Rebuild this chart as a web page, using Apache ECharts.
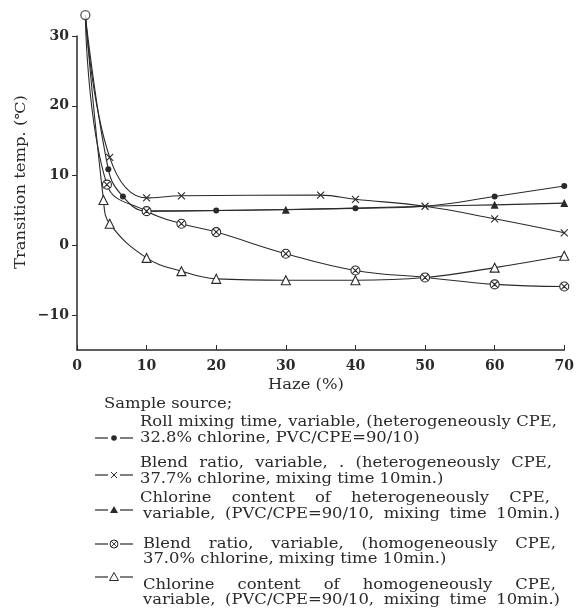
<!DOCTYPE html>
<html><head><meta charset="utf-8">
<script src="https://cdn.jsdelivr.net/npm/echarts@6/dist/echarts.min.js"></script>
<style>html,body{margin:0;padding:0;background:#fff}#c{width:577px;height:614px}</style>
</head><body><div id="c"></div>
<script>
// ---- data ----
const xTicks = [0, 10, 20, 30, 40, 50, 60, 70];
const yTicks = [-10, 0, 10, 20, 30];
const originX = [1.2];
const originY = [33];
const rollX = [1.2, 4.5, 6.6, 10, 20, 40, 50, 60, 70];
const rollY = [33, 10.9, 7.0, 4.9, 5.0, 5.3, 5.6, 7.0, 8.5];
const rollHidden = [1.2, 50];
const blendHetX = [1.2, 4.7, 10, 15, 35, 40, 50, 60, 70];
const blendHetY = [33, 12.6, 6.8, 7.1, 7.2, 6.6, 5.6, 3.8, 1.8];
const blendHetHidden = [1.2];
const clHetX = [10, 30, 50, 60, 70];
const clHetY = [4.9, 5.1, 5.6, 5.8, 6.05];
const clHetHidden = [10, 50];
const blendHomX = [1.2, 4.3, 10, 15, 20, 30, 40, 50, 60, 70];
const blendHomY = [33, 8.7, 4.9, 3.1, 1.9, -1.2, -3.6, -4.6, -5.6, -5.9];
const blendHomHidden = [1.2];
const clHomX = [1.2, 3.8, 4.7, 10, 15, 20, 30, 40, 50, 60, 70];
const clHomY = [33, 6.5, 3.1, -1.8, -3.7, -4.8, -5.0, -5.0, -4.6, -3.2, -1.5];
const clHomHidden = [1.2, 50];

const yName = 'Transition temp. (℃)';
const xName = 'Haze (%)';
const legendTitle = 'Sample source;';
const legendLines = [
  'Roll mixing time, variable, (heterogeneously CPE,',
  '32.8% chlorine, PVC/CPE=90/10)',
  'Blend ratio, variable, . (heterogeneously CPE,',
  '37.7% chlorine, mixing time 10min.)',
  'Chlorine content of heterogeneously CPE,',
  'variable, (PVC/CPE=90/10, mixing time 10min.)',
  'Blend ratio, variable, (homogeneously CPE,',
  '37.0% chlorine, mixing time 10min.)',
  'Chlorine content of homogeneously CPE,',
  'variable, (PVC/CPE=90/10, mixing time 10min.)'
];

// ---- helpers ----
function pts(xs, ys, hidden) {
  return xs.map((x, i) => {
    const d = { value: [x, ys[i]] };
    if (hidden.includes(x)) d.symbol = 'none';
    return d;
  });
}
const INK = '#2a2a2a';
const FF = 'DejaVu Serif';
const FS = 14;
const SX = 1.17;
const ctx = document.createElement('canvas').getContext('2d');
ctx.font = FS + 'px "' + FF + '"';
function tw(t) { return ctx.measureText(t).width * SX; }
function textEl(str, x, y) {
  return { type: 'text', x: x, y: y, scaleX: SX, silent: true,
    style: { text: str, fontFamily: FF, fontSize: FS, fill: INK, align: 'left', verticalAlign: 'middle' } };
}
function line(str, x0, y, x1) {
  if (x1 == null) return [textEl(str, x0, y)];
  const words = str.split(' ');
  const total = words.reduce((a, b) => a + tw(b), 0);
  const gap = words.length > 1 ? (x1 - x0 - total) / (words.length - 1) : 0;
  let x = x0;
  return words.map(wd => { const e = textEl(wd, x, y); x += tw(wd) + gap; return e; });
}

const OTIMES = 'path://M10,0A10,10 0 1 1 10,20A10,10 0 1 1 10,0Z M3,3L17,17M17,3L3,17';
const CROSS = 'path://M0,0L10,10M10,0L0,10';

const common = { type: 'line', smooth: 0.42, clip: false,
  lineStyle: { color: INK, width: 1.1 }, emphasis: { disabled: true } };

const series = [
  Object.assign({}, common, { name: 'roll', data: pts(rollX, rollY, rollHidden), symbol: 'circle', symbolSize: 6,
    itemStyle: { color: INK } }),
  Object.assign({}, common, { name: 'blendHet', data: pts(blendHetX, blendHetY, blendHetHidden), symbol: CROSS, symbolSize: 7,
    itemStyle: { color: '#fff', borderColor: INK, borderWidth: 1.1 } }),
  Object.assign({}, common, { name: 'clHet', data: pts(clHetX, clHetY, clHetHidden), symbol: 'triangle', symbolSize: 8,
    itemStyle: { color: INK } }),
  Object.assign({}, common, { name: 'blendHom', data: pts(blendHomX, blendHomY, blendHomHidden), symbol: OTIMES, symbolSize: 9,
    itemStyle: { color: '#fff', borderColor: INK, borderWidth: 1.1 } }),
  Object.assign({}, common, { name: 'clHom', data: pts(clHomX, clHomY, clHomHidden), symbol: 'triangle', symbolSize: 9,
    itemStyle: { color: '#fff', borderColor: INK, borderWidth: 1.1 } }),
  { type: 'scatter', name: 'origin', clip: false, data: originX.map((x, i) => [x, originY[i]]), symbol: 'circle', symbolSize: 9,
    itemStyle: { color: '#fff', borderColor: INK, borderWidth: 1.3 }, z: 5 }
];

// legend markers
const markerRows = [438, 475, 510, 544, 577];
const mX0 = 95, mX1 = 133, mC = 114;
const graphics = [];
function seg(x1, y1, x2, y2, w) { return { type: 'line', silent: true, shape: { x1, y1, x2, y2 }, style: { stroke: INK, lineWidth: w || 1.2 } }; }
markerRows.forEach((y, i) => {
  graphics.push(seg(mX0, y, mC - 6, y), seg(mC + 6, y, mX1, y));
  if (i === 0) graphics.push({ type: 'circle', silent: true, shape: { cx: mC, cy: y, r: 2.8 }, style: { fill: INK } });
  if (i === 1) graphics.push(seg(mC - 3, y - 3, mC + 3, y + 3, 1), seg(mC + 3, y - 3, mC - 3, y + 3, 1));
  if (i === 2) graphics.push({ type: 'polygon', silent: true, shape: { points: [[mC, y - 4], [mC + 4, y + 3], [mC - 4, y + 3]] }, style: { fill: INK } });
  if (i === 3) graphics.push({ type: 'circle', silent: true, shape: { cx: mC, cy: y, r: 4 }, style: { fill: '#fff', stroke: INK, lineWidth: 1 } },
    seg(mC - 2.8, y - 2.8, mC + 2.8, y + 2.8, 0.9), seg(mC + 2.8, y - 2.8, mC - 2.8, y + 2.8, 0.9));
  if (i === 4) graphics.push({ type: 'polygon', silent: true, shape: { points: [[mC, y - 4.5], [mC + 4.5, y + 3.5], [mC - 4.5, y + 3.5]] }, style: { fill: '#fff', stroke: INK, lineWidth: 1 } });
});
const textRows = [
  [140, 422, 557], [140, 438, null], [140, 463, 552], [140, 479, null], [140, 498, 550],
  [143, 514, 560], [143, 544, 556], [143, 559, null], [143, 585, 556], [143, 600, 560]
];
legendLines.forEach((s, i) => { const r = textRows[i]; line(s, r[0], r[1], r[2]).forEach(e => graphics.push(e)); });
graphics.push(textEl(legendTitle, 104, 404));
graphics.push({ type: 'text', x: 306, y: 385, scaleX: SX, silent: true,
  style: { text: xName, fontFamily: FF, fontSize: FS, fill: INK, align: 'center', verticalAlign: 'middle' } });
graphics.push({ type: 'text', x: 21, y: 182, rotation: Math.PI / 2, scaleX: SX, silent: true,
  style: { text: yName, fontFamily: FF, fontSize: FS, fill: INK, align: 'center', verticalAlign: 'middle' } });

const labelStyle = { fontFamily: FF, fontSize: 14, fontWeight: 'bold', color: INK };
const option = {
  animation: false,
  backgroundColor: '#fff',
  grid: { left: 77, top: 36, width: 489, height: 314 },
  xAxis: {
    type: 'value', min: 0, max: 70, interval: 10,
    axisLine: { onZero: false, lineStyle: { color: INK, width: 1.5 } },
    axisTick: { inside: true, length: 5, lineStyle: { color: INK } },
    axisLabel: Object.assign({ margin: 9, customValues: xTicks }, labelStyle),
    splitLine: { show: false }
  },
  yAxis: {
    type: 'value', min: -15, max: 30,
    axisLine: { show: true, onZero: false, lineStyle: { color: INK, width: 1.5 } },
    axisTick: { show: true, length: 5, customValues: yTicks, lineStyle: { color: INK } },
    axisLabel: Object.assign({ margin: 8, customValues: yTicks, formatter: v => v < 0 ? '\u2212' + Math.abs(v) : String(v) }, labelStyle),
    splitLine: { show: false }
  },
  series: series,
  graphic: graphics
};
const chart = echarts.init(document.getElementById('c'), null, { renderer: 'canvas' });
chart.setOption(option);
</script>
</body></html>
